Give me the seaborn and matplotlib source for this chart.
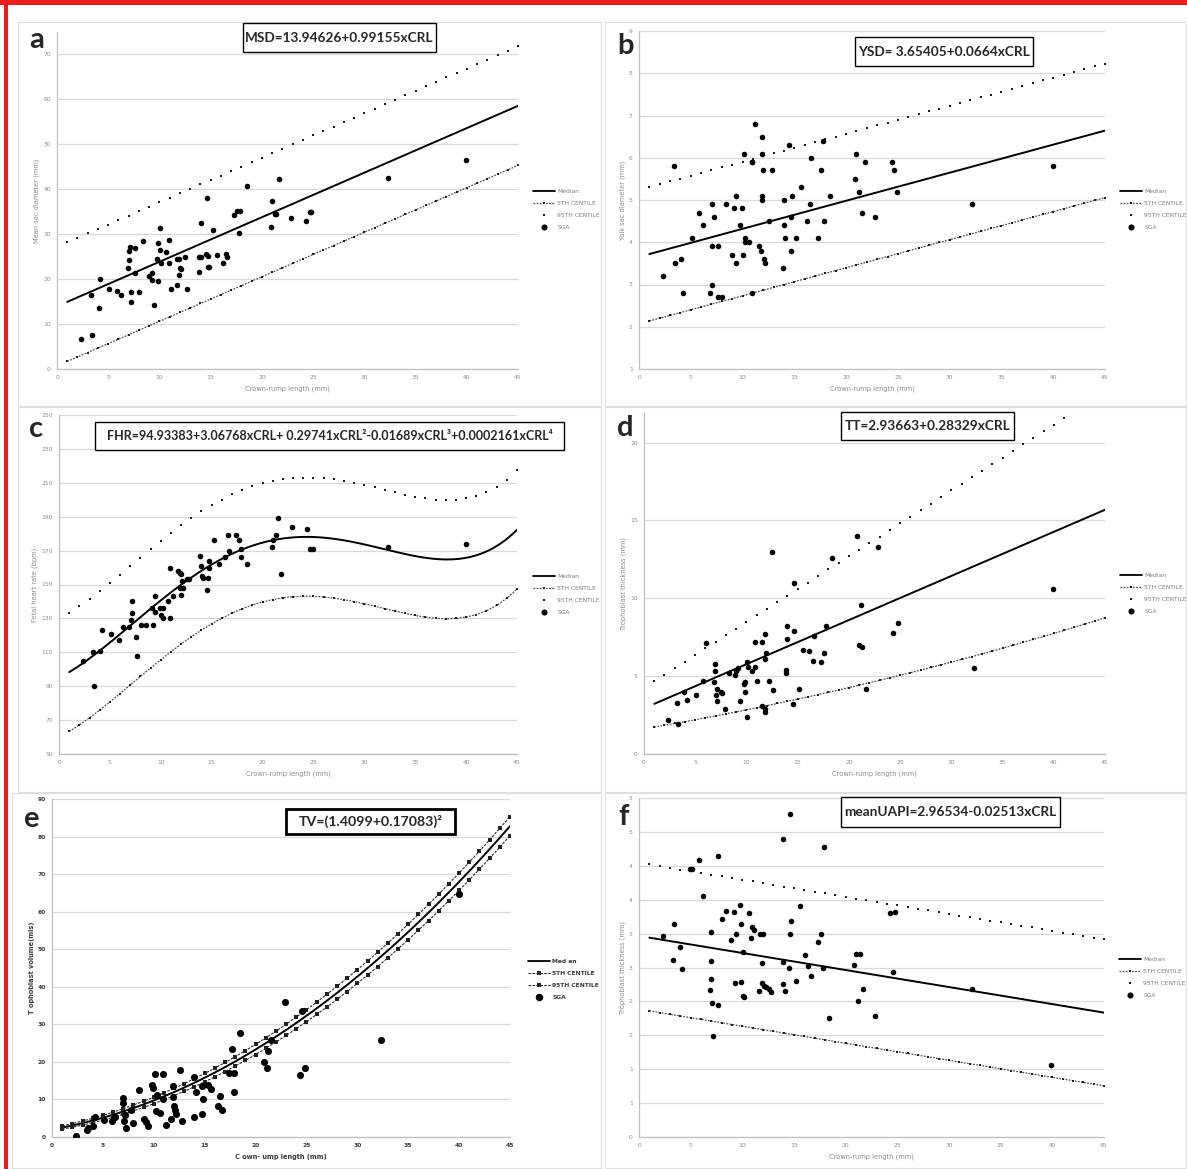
import numpy as np
import matplotlib
matplotlib.use("Agg")
import matplotlib.pyplot as plt
from matplotlib.patches import Rectangle
from matplotlib.lines import Line2D
import seaborn as sns

# ---------------------------------------------------------------- data
# SGA observations (CRL in mm) for each outcome
a_crl = [2.3, 3.4, 3.3, 4.1, 4.2, 5.1, 5.9, 6.2, 6.9, 7.0,
         7.0, 7.1, 7.2, 7.2, 7.6, 7.6, 8.0, 8.4, 9.0, 9.3,
         9.3, 9.5, 9.8, 9.9, 9.9, 10.1, 10.1, 10.2, 10.6, 10.9,
         10.9, 11.1, 11.7, 11.7, 11.9, 11.9, 12.0, 12.1, 12.5, 12.7,
         13.9, 13.9, 14.1, 14.1, 14.5, 14.6, 14.7, 14.7, 14.8, 15.2,
         15.6, 16.2, 16.5, 16.6, 17.3, 17.6, 17.9, 17.8, 18.5, 20.9,
         21.0, 21.3, 21.4, 21.7, 22.8, 24.3, 24.7, 24.8, 32.3, 39.9]
a_msd = [6.6, 7.5, 16.4, 13.5, 20.1, 17.9, 17.3, 16.5, 22.5, 24.2,
         26.3, 27.2, 17.1, 14.8, 27.0, 21.4, 17.1, 28.4, 20.8, 19.7,
         21.3, 14.2, 24.4, 28.1, 19.6, 31.3, 26.4, 23.5, 26.1, 23.6,
         28.8, 17.7, 24.5, 18.8, 24.4, 20.9, 22.5, 22.2, 25.0, 17.9,
         25.0, 21.6, 32.5, 25.0, 25.7, 38.0, 22.6, 25.2, 22.7, 30.9,
         25.3, 23.6, 25.7, 25.0, 34.3, 35.2, 35.2, 30.3, 40.8, 31.7,
         37.3, 34.5, 34.5, 42.2, 33.7, 32.9, 34.9, 34.9, 42.5, 46.5]

b_crl = [2.35, 3.36, 3.44, 4.02, 4.23, 5.14, 5.82, 6.22, 6.88, 7.02,
         7.06, 7.09, 7.2, 7.6, 7.6, 7.99, 8.4, 9.0, 9.2, 9.4,
         9.4, 9.8, 9.9, 10.0, 10.1, 10.2, 10.2, 10.6, 10.9, 10.9,
         10.9, 11.2, 11.6, 11.8, 11.9, 11.9, 11.9, 11.9, 12.0, 12.1,
         12.2, 12.6, 12.8, 13.9, 14.0, 14.0, 14.1, 14.5, 14.7, 14.7,
         14.8, 15.2, 15.6, 16.2, 16.5, 16.6, 17.3, 17.6, 17.8, 17.9,
         18.4, 20.9, 21.0, 21.2, 21.5, 21.8, 22.8, 24.4, 24.6, 24.9,
         32.2, 40.0]
b_ysd = [3.2, 5.8, 3.5, 3.6, 2.8, 4.1, 4.7, 4.4, 2.8, 4.9,
         3.9, 3.0, 4.6, 3.9, 2.7, 2.7, 4.9, 3.7, 4.8, 3.5,
         5.1, 4.4, 4.8, 3.7, 6.1, 4.1, 4.0, 4.0, 5.9, 5.9,
         2.8, 6.8, 3.9, 3.8, 6.1, 6.5, 5.1, 5.0, 5.7, 3.6,
         3.5, 4.5, 5.7, 3.4, 5.0, 4.4, 4.1, 6.3, 3.8, 4.6,
         5.1, 4.1, 5.3, 4.5, 4.9, 6.0, 4.1, 5.7, 6.4, 4.5,
         5.1, 5.5, 6.1, 5.2, 4.7, 5.9, 4.6, 5.9, 5.7, 5.2,
         4.9, 5.8]

c_crl = [2.33, 3.35, 3.43, 4.0, 4.25, 5.1, 5.9, 6.3, 6.85, 7.1,
         7.15, 7.2, 7.6, 7.65, 8.1, 8.5, 9.2, 9.15, 9.4, 9.45,
         9.9, 10.0, 10.2, 10.2, 10.95, 10.95, 10.7, 11.2, 11.7, 11.9,
         12.0, 11.9, 12.1, 11.95, 12.2, 12.55, 12.8, 13.9, 14.0, 14.05,
         14.1, 14.5, 14.7, 14.65, 14.7, 15.2, 15.7, 16.3, 16.6, 16.7,
         17.35, 17.65, 17.9, 17.9, 18.5, 20.9, 21.0, 21.3, 21.5, 21.8,
         22.9, 24.4, 24.7, 25.0, 32.3, 40.0]
c_fhr = [105, 110, 90, 111, 123, 121, 117, 125, 125, 129,
         133, 140, 119, 108, 126, 126, 126, 136, 143, 134,
         136, 132, 136, 130, 130, 160, 140, 143, 158, 157,
         156, 148, 152, 144, 148, 153, 153, 167, 161, 155,
         154, 147, 164, 154, 160, 176, 162, 166, 179, 170,
         179, 176, 171, 166, 162, 172, 176, 179, 189, 156,
         184, 183, 171, 171, 172, 174]

d_crl = [2.3, 3.2, 3.35, 3.9, 4.2, 5.1, 5.8, 6.1, 6.8, 6.95,
         6.95, 7.0, 7.1, 7.1, 7.5, 7.6, 7.9, 8.3, 8.9, 9.0,
         9.2, 9.35, 9.8, 9.9, 9.9, 10.05, 10.05, 10.15, 10.55, 10.85,
         10.85, 11.05, 11.55, 11.55, 11.8, 11.85, 11.85, 11.85, 11.95, 12.2,
         12.45, 12.6, 13.85, 13.9, 13.95, 14.0, 14.5, 14.6, 14.6, 15.1,
         15.55, 16.1, 16.45, 16.55, 17.3, 17.55, 17.8, 18.4, 20.75, 20.95,
         21.2, 21.3, 21.7, 22.8, 24.35, 24.75, 32.2, 39.95]
d_tt = [2.2, 3.3, 1.9, 4.0, 3.5, 3.8, 4.7, 7.1, 4.6, 5.8,
        5.3, 3.8, 4.2, 3.4, 4.0, 3.9, 2.9, 5.2, 5.1, 5.3,
        5.5, 3.4, 4.5, 4.6, 4.0, 2.4, 5.9, 5.6, 5.3, 5.6,
        7.2, 4.7, 7.2, 3.1, 6.1, 2.9, 2.7, 7.7, 6.5, 4.7,
        13.0, 4.1, 5.4, 5.2, 8.2, 7.4, 3.2, 11.0, 7.9, 4.2,
        6.7, 6.6, 6.0, 7.6, 5.9, 6.5, 8.2, 12.6, 14.0, 7.0,
        9.6, 6.9, 4.2, 13.3, 7.8, 8.4, 5.5, 10.6]

e_crl = [2.37, 3.4, 3.5, 4.0, 4.2, 5.1, 5.9, 6.2, 7.0, 7.0,
         7.15, 7.1, 7.3, 7.75, 8.0, 8.5, 9.0, 9.2, 9.4, 9.8,
         9.9, 10.1, 10.2, 10.3, 10.65, 10.95, 10.95, 11.2, 11.7, 11.85,
         11.85, 11.95, 12.1, 12.2, 12.55, 12.8, 13.95, 14.0, 14.15, 14.7,
         14.8, 14.75, 15.35, 15.65, 16.3, 16.5, 16.7, 17.35, 17.65, 17.9,
         17.9, 18.5, 20.8, 21.1, 21.25, 21.5, 22.9, 24.4, 24.6, 24.9,
         32.3, 40.0]
e_tv = [0.3, 1.8, 2.4, 3.0, 5.3, 4.4, 4.3, 5.3, 10.3, 9.1,
        5.8, 4.3, 2.5, 7.3, 3.6, 12.5, 4.9, 4.0, 2.8, 13.8,
        13.1, 16.7, 6.9, 11.3, 6.4, 16.7, 10.2, 3.3, 4.9, 13.6,
        10.7, 8.3, 7.1, 6.1, 17.8, 4.2, 5.3, 16.0, 12.0, 6.2,
        10.2, 13.5, 13.8, 12.9, 8.2, 11.0, 7.1, 17.1, 23.3, 17.1,
        12.1, 27.6, 19.9, 18.3, 23.0, 25.7, 35.9, 16.6, 33.5, 18.4,
        25.9, 64.8]

f_crl = [2.28, 3.34, 3.3, 3.95, 4.2, 4.93, 5.15, 5.8, 6.2, 6.9,
         7.0, 7.0, 7.0, 7.1, 7.2, 7.6, 7.6, 8.0, 8.4, 8.9,
         9.2, 9.4, 9.3, 9.8, 9.9, 9.9, 10.1, 10.1, 10.2, 10.6,
         10.85, 10.9, 11.1, 11.6, 11.75, 11.9, 11.9, 12.0, 12.1, 12.25,
         12.55, 12.8, 13.9, 13.9, 13.9, 14.1, 14.5, 14.6, 14.6, 14.7,
         15.2, 15.6, 16.1, 16.4, 16.6, 17.3, 17.6, 17.8, 17.9, 18.4,
         20.8, 21.0, 21.2, 21.4, 21.7, 22.8, 24.3, 24.8, 24.6, 32.2,
         39.9]
f_pi = [2.97, 3.14, 2.61, 2.80, 2.48, 3.95, 3.96, 4.09, 3.55, 2.17,
        3.02, 2.60, 2.33, 1.98, 1.49, 4.14, 1.95, 3.22, 3.33, 2.91,
        3.32, 3.00, 2.27, 3.42, 3.14, 2.29, 2.73, 2.08, 2.06, 3.30,
        2.93, 3.09, 3.06, 2.16, 3.00, 2.56, 2.27, 3.00, 2.22, 2.21,
        2.18, 2.14, 4.40, 2.58, 2.26, 2.15, 2.49, 4.77, 3.00, 3.18,
        2.30, 3.41, 2.69, 2.52, 2.38, 2.88, 3.00, 2.49, 4.28, 1.75,
        2.53, 2.70, 2.00, 2.70, 2.19, 1.79, 3.31, 3.32, 2.43, 2.19,
        1.06]

# Reference equations (coefficients, lowest power first) and centile spreads
a_coef = [13.94626, 0.99155]
a_spread = 13.25
b_coef = [3.65405, 0.0664]
b_spread = 1.585
c_coef = [94.93383, 3.06768, 0.29741, -0.01689, 0.0002161]
c_spread = 35.0
d_coef = [2.93663, 0.28329]
d_p95_coef = [4.25, 0.4225]
d_p5_coef = [1.617, 0.1117, 0.001035]
e_coef = [1.4099, 0.17083]          # TV = (b0 + b1*CRL)^2
e_spread_sqrt = 0.14
f_coef = [2.96534, -0.02513]
f_spread = 1.08

equations = {
    "a": "MSD=13.94626+0.99155xCRL",
    "b": "YSD= 3.65405+0.0664xCRL",
    "c": "FHR=94.93383+3.06768xCRL+ 0.29741xCRL\u00b2-0.01689xCRL\u00b3+0.0002161xCRL\u2074",
    "d": "TT=2.93663+0.28329xCRL",
    "e": "TV=(1.4099+0.17083)\u00b2",
    "f": "meanUAPI=2.96534-0.02513xCRL",
}
y_labels = {
    "a": "Mean sac diameter (mm)",
    "b": "Yolk sac diameter (mm)",
    "c": "Fetal heart rate (bpm)",
    "d": "Trophoblast thickness (mm)",
    "e": "T ophoblast volume(mls)",
    "f": "Trophoblast thickness (mm)",
}
x_label = "Crown-rump length (mm)"
x_label_e = "C own- ump length (mm)"
legend_labels = ["Median", "5TH CENTILE", "95TH CENTILE", "SGA"]
legend_labels_e = ["Med an", "5TH CENTILE", "95TH CENTILE", "SGA"]
f_tick_values = [0, 0.5, 1, 1.5, 2, 2.5, 3, 3.5, 4, 4.5, 5]
f_tick_labels = ["0", "1", "1", "2", "2", "3", "3", "4", "4", "5", "5"]

# ---------------------------------------------------------------- helpers
W, H, DPI = 1187, 1169, 100
CRL_MARKS = np.arange(1, 46)
CRL_FINE = np.linspace(1, 45, 221)
XTICKS = np.arange(0, 46, 5)


def poly(coef, x):
    return np.polyval(coef[::-1], x)


def fig_rect(l, t, r, b):
    return [l / W, 1 - b / H, (r - l) / W, (b - t) / H]


def fig_box(fig, l, t, r, b, ec, lw, fill, z):
    fig.add_artist(Rectangle((l / W, 1 - b / H), (r - l) / W, (b - t) / H,
                             transform=fig.transFigure,
                             facecolor="white" if fill else "none",
                             edgecolor=ec, linewidth=lw, zorder=z))


sns.set_theme(style="white")
plt.rcParams["font.family"] = ["DejaVu Sans"]

fig = plt.figure(figsize=(W / DPI, H / DPI), dpi=DPI, facecolor="white")

# page frame and panel outlines
fig.add_artist(Rectangle((0, 1 - 5 / H), 1, 5 / H, transform=fig.transFigure,
                         facecolor="#ee1c1c", edgecolor="none", zorder=10))
fig.add_artist(Rectangle((4 / W, 0), 3.5 / W, 1, transform=fig.transFigure,
                         facecolor="#ee1c1c", edgecolor="none", zorder=10))
for box in [(18, 22, 601, 406), (605, 22, 1186, 406),
            (18, 407, 601, 792), (605, 407, 1186, 792),
            (12, 793, 601, 1168), (605, 793, 1186, 1168)]:
    fig_box(fig, *box, ec="#dedede", lw=0.8, fill=False, z=-1)


def setup_axes(rect, ylim, yticks, ylabel, xlabel, ytick_labels=None, dark=False):
    ax = fig.add_axes(fig_rect(*rect))
    ax.set_facecolor("none")
    ax.set_xlim(0, 45)
    ax.set_ylim(*ylim)
    ax.set_xticks(XTICKS)
    ax.set_yticks(yticks)
    if ytick_labels is not None:
        ax.set_yticklabels(ytick_labels)
    ax.grid(axis="y", color="#d9d9d9", linewidth=0.9)
    ax.grid(axis="x", visible=False)
    ax.set_axisbelow(True)
    for s in ("top", "right"):
        ax.spines[s].set_visible(False)
    for s in ("left", "bottom"):
        ax.spines[s].set_color("#bfbfbf")
        ax.spines[s].set_linewidth(0.9)
    col = "#3a3a3a" if dark else "#8c8c8c"
    weight = "bold" if dark else "normal"
    ax.tick_params(length=0, labelsize=4.3, labelcolor=col, pad=4.5)
    for lab in ax.get_xticklabels() + ax.get_yticklabels():
        lab.set_fontweight(weight)
    ax.set_xlabel(xlabel, fontsize=4.8, color=col, labelpad=4, fontweight=weight)
    ax.set_ylabel(ylabel, fontsize=4.8, color=col, labelpad=2, fontweight=weight)
    return ax


def draw_series(ax, median_x, median_y, p5, p95, sx, sy, dot_size=16, banded_lines=False):
    sns.lineplot(x=median_x, y=median_y, color="black", linewidth=1.4,
                 ax=ax, legend=False, zorder=3)
    if banded_lines:
        for band in (p5, p95):
            sns.lineplot(x=CRL_MARKS, y=band, color="#222222", linewidth=0.75,
                         linestyle=(0, (2.5, 1.3)), marker="s", markersize=2.2,
                         markeredgewidth=0, ax=ax, legend=False, zorder=3)
    else:
        sns.lineplot(x=CRL_MARKS, y=p5, color="#4a4a4a", linewidth=0.9,
                     linestyle=(0, (1.4, 1.1)), marker="s", markersize=2.1,
                     markeredgewidth=0, markerfacecolor="#1e1e1e",
                     ax=ax, legend=False, zorder=3)
        sns.scatterplot(x=CRL_MARKS, y=p95, marker="s", s=4.2, color="#1e1e1e",
                        linewidth=0, ax=ax, legend=False, zorder=3)
    sns.scatterplot(x=sx, y=sy, s=dot_size, color="black", linewidth=0,
                    ax=ax, legend=False, zorder=4)


def add_legend(ax, rect, handle_x, top_y, labels, banded_lines=False, dark=False, sga_ms=4.4):
    l, t, r, b = rect
    if banded_lines:
        band = dict(color="#222222", lw=0.75, ls=(0, (2.5, 1.3)), marker="s", ms=2.2, mew=0)
        h5, h95 = Line2D([], [], **band), Line2D([], [], **band)
    else:
        h5 = Line2D([], [], color="#4a4a4a", lw=0.9, ls=(0, (1.4, 1.1)), marker="s",
                    ms=2.1, mew=0, mfc="#1e1e1e")
        h95 = Line2D([], [], ls="none", marker="s", ms=2.0, mew=0, color="#1e1e1e")
    handles = [Line2D([], [], color="black", lw=1.3), h5, h95,
               Line2D([], [], ls="none", marker="o", ms=sga_ms, mew=0, color="black")]
    leg = ax.legend(handles, labels, loc="upper left",
                    bbox_to_anchor=((handle_x - l) / (r - l), (b - top_y) / (b - t)),
                    frameon=False, fontsize=4.3, handlelength=3.7, handletextpad=0.4,
                    labelspacing=1.15, borderpad=0, borderaxespad=0, numpoints=1)
    for txt in leg.get_texts():
        txt.set_color("#3a3a3a" if dark else "#7f7f7f")
        if dark:
            txt.set_fontweight("bold")


def equation_box(key, l, t, r, b, size, lw=1.0):
    fig_box(fig, l, t, r, b, ec="black", lw=lw, fill=True, z=5)
    fig.text((l + r) / 2 / W, 1 - (t + b) / 2 / H, equations[key], ha="center",
             va="center", fontsize=size, fontweight="bold",
             family=["Lato", "DejaVu Sans"], zorder=6)


def panel_letter(key, x, y_base):
    fig.text(x / W, 1 - y_base / H, key, ha="left", va="baseline", fontsize=21,
             fontweight="bold", family=["Lato", "DejaVu Sans"], zorder=6)


# ---------------------------------------------------------------- panel a
rect_a = (57, 32, 518, 369)
ax = setup_axes(rect_a, (0, 75), np.arange(0, 71, 10), y_labels["a"], x_label)
med = poly(a_coef, CRL_MARKS)
draw_series(ax, CRL_MARKS, med, med - a_spread, med + a_spread, a_crl, a_msd)
add_legend(ax, rect_a, 533, 189, legend_labels)

# ---------------------------------------------------------------- panel b
rect_b = (639, 31, 1105, 369)
ax = setup_axes(rect_b, (1, 9), np.arange(1, 10, 1), y_labels["b"], x_label)
med = poly(b_coef, CRL_MARKS)
draw_series(ax, CRL_MARKS, med, med - b_spread, med + b_spread, b_crl, b_ysd)
add_legend(ax, rect_b, 1120, 189, legend_labels)

# ---------------------------------------------------------------- panel c
rect_c = (59, 415, 517, 754)
ax = setup_axes(rect_c, (50, 250), np.arange(50, 251, 20), y_labels["c"], x_label)
med_c = poly(c_coef, CRL_MARKS)
draw_series(ax, CRL_FINE, poly(c_coef, CRL_FINE), med_c - c_spread, med_c + c_spread,
            c_crl, c_fhr)
add_legend(ax, rect_c, 533, 574, legend_labels)

# ---------------------------------------------------------------- panel d
rect_d = (644, 413, 1105, 754)
ax = setup_axes(rect_d, (0, 21.9), np.arange(0, 21, 5), y_labels["d"], x_label)
draw_series(ax, CRL_MARKS, poly(d_coef, CRL_MARKS), poly(d_p5_coef, CRL_MARKS),
            poly(d_p95_coef, CRL_MARKS), d_crl, d_tt)
add_legend(ax, rect_d, 1120, 573, legend_labels)

# ---------------------------------------------------------------- panel e
rect_e = (52, 799, 510, 1137)
ax = setup_axes(rect_e, (0, 90), np.arange(0, 91, 10), y_labels["e"], x_label_e, dark=True)
root = poly(e_coef, CRL_MARKS)
draw_series(ax, CRL_FINE, poly(e_coef, CRL_FINE) ** 2, (root - e_spread_sqrt) ** 2,
            (root + e_spread_sqrt) ** 2, e_crl, e_tv, dot_size=26, banded_lines=True)
add_legend(ax, rect_e, 528, 959, legend_labels_e, banded_lines=True, dark=True, sga_ms=5.4)

# ---------------------------------------------------------------- panel f
rect_f = (639, 798, 1104, 1137)
ax = setup_axes(rect_f, (0, 5), f_tick_values, y_labels["f"], x_label,
                ytick_labels=f_tick_labels)
med = poly(f_coef, CRL_MARKS)
draw_series(ax, CRL_MARKS, med, med - f_spread, med + f_spread, f_crl, f_pi)
add_legend(ax, rect_f, 1119, 957, legend_labels)

# ---------------------------------------------------------------- annotations
equation_box("a", 243, 23, 436, 52, 9.8)
equation_box("b", 855, 37, 1033, 66, 9.8)
equation_box("c", 95, 422, 564, 450, 9.0)
equation_box("d", 841, 412, 1014, 440, 9.8)
equation_box("e", 286, 809, 455, 834, 10.2, lw=2.0)
equation_box("f", 841, 797, 1060, 827, 9.8)

panel_letter("a", 29, 48)
panel_letter("b", 617, 54)
panel_letter("c", 29, 437)
panel_letter("d", 617, 436)
panel_letter("e", 23, 827)
panel_letter("f", 618, 825)

fig.savefig("out.png", dpi=DPI, facecolor="white")
